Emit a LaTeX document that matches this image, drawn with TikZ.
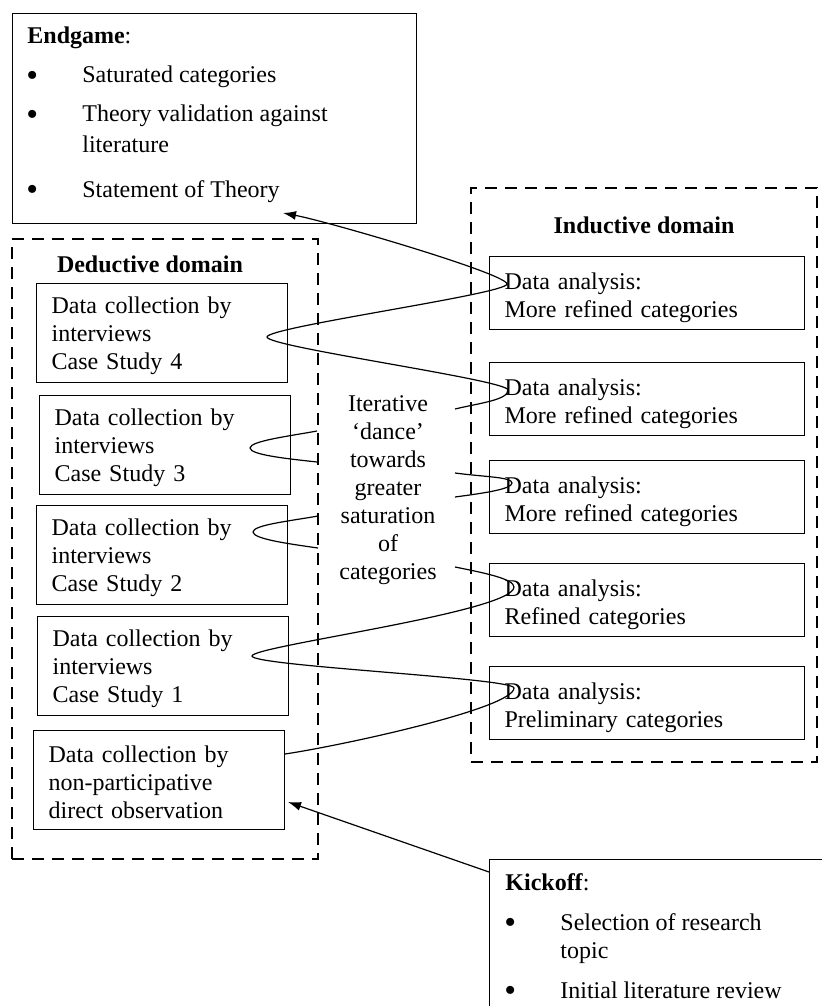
\documentclass[tikz,border=0pt]{standalone}
\usepackage{fontspec}
\usepackage{graphicx}
\setmainfont{Liberation Serif}
\usetikzlibrary{arrows.meta}
% list marker of the Endgame and Kickoff boxes
\newcommand{\listdot}{\raisebox{-1.6pt}[5pt][0pt]{\scalebox{1.4}{\textbullet}}}
\begin{document}
\begin{tikzpicture}[x=0.5pt,y=-0.5pt,
  font=\fontsize{12}{14}\selectfont,
  frame/.style={draw, line width=1pt, dash pattern=on 6pt off 4pt, anchor=north west, inner sep=0pt},
  box/.style={draw, line width=0.6pt, anchor=north west},
  databox/.style={box, inner xsep=7.5pt, text width=110.5pt, minimum height=49.5pt, align=left},
  anbox/.style={box, inner xsep=7.5pt, text width=142.5pt, minimum height=33.5pt, align=left},
  txt/.style={anchor=base west, inner sep=0pt},
  title/.style={anchor=base, inner sep=0pt, font=\fontsize{12}{14}\selectfont\bfseries},
  dance/.style={line width=0.6pt},
  tip/.style={-{Latex[length=6.5pt,width=4.5pt]}}
]
\useasboundingbox (0,0) rectangle (822,1006);
\clip (0,0) rectangle (822,1006);

% ---- Endgame box ----
\node[box, minimum width=202pt, minimum height=105pt] (endgame) at (12,13) {};
\node[txt] (eg-head) at (27,44) {\textbf{Endgame}:};
\node[txt] (eg-b1) at (26,83) {\listdot};
\node[txt] (eg-t1) at (82,83) {Saturated categories};
\node[txt] (eg-b2) at (26,122) {\listdot};
\node[txt] (eg-t2) at (82,122) {Theory validation against};
\node[txt] (eg-t2b) at (82,153) {literature};
\node[txt] (eg-b3) at (26,197) {\listdot};
\node[txt] (eg-t3) at (82,197) {Statement of Theory};

% ---- domains ----
\node[frame, minimum width=153pt, minimum height=310pt] (deductive) at (11,238) {};
\node[frame, minimum width=173pt, minimum height=287pt] (inductive) at (470,187) {};
\node[title] (ded-title) at (150,272) {Deductive domain};
\node[title] (ind-title) at (644,233) {Inductive domain};

% ---- deductive boxes ----
\node[databox] (cs4) at (36,283) {\rule{0pt}{10.8pt}Data collection by\\interviews\\Case Study 4};
\node[databox] (cs3) at (39,395) {\rule{0pt}{10.8pt}Data collection by\\interviews\\Case Study 3};
\node[databox] (cs2) at (36,505) {\rule{0pt}{10.8pt}Data collection by\\interviews\\Case Study 2};
\node[databox] (cs1) at (37,616) {\rule{0pt}{10.8pt}Data collection by\\interviews\\Case Study 1};
\node[databox] (obs) at (33,730) {\rule{0pt}{10.8pt}Data collection by\\non-participative\\direct observation};

% ---- inductive boxes ----
\node[anbox] (an5) at (489,256) {\rule{0pt}{13.3pt}Data analysis:\\More refined categories};
\node[anbox] (an4) at (489,362) {\rule{0pt}{13.3pt}Data analysis:\\More refined categories};
\node[anbox] (an3) at (489,460) {\rule{0pt}{13.3pt}Data analysis:\\More refined categories};
\node[anbox] (an2) at (489,563) {\rule{0pt}{13.3pt}Data analysis:\\Refined categories};
\node[anbox] (an1) at (489,666) {\rule{0pt}{13.3pt}Data analysis:\\Preliminary categories};

% ---- middle caption ----
\node[align=center, inner sep=0pt] (dancetext) at (388,490)
  {Iterative\\‘dance’\\towards\\greater\\saturation\\of\\categories};

% ---- Kickoff box ----
\node[box, minimum width=176pt, minimum height=81pt] (kickoff) at (489,859) {};
\node[txt] (ko-head) at (505,890) {\textbf{Kickoff}:};
\node[txt] (ko-b1) at (504,930) {\listdot};
\node[txt] (ko-t1) at (560,930) {Selection of research};
\node[txt] (ko-t1b) at (560,958) {topic};
\node[txt] (ko-b2) at (504,998) {\listdot};
\node[txt] (ko-t2) at (560,998) {Initial literature review};

% ---- the iterative dance ----
\coordinate (sa) at (455,409);
\coordinate (ra2) at (508,390);
\coordinate (la4) at (267,337);
\coordinate (ra1) at (507,284);
\coordinate (eg-target) at (283,213);
\draw[dance, tip] (sa) .. controls (480,403) and (508,400) .. (ra2)
  .. controls (508,380) and (267,347) .. (la4)
  .. controls (267,327) and (507,294) .. (ra1)
  .. controls (507,274) and (330,222) .. (eg-target);

\coordinate (b-in) at (317,431);
\coordinate (b-tip) at (250,448);
\coordinate (b-out) at (317,462);
\draw[dance] (b-in) .. controls (290,436) and (250,441) .. (b-tip)
  .. controls (250,455) and (290,459) .. (b-out);

\coordinate (c-in) at (455,473);
\coordinate (c-tip) at (512,483);
\coordinate (c-out) at (455,497);
\draw[dance] (c-in) .. controls (485,477) and (512,477) .. (c-tip)
  .. controls (512,489) and (485,493) .. (c-out);

\coordinate (d-in) at (318,516);
\coordinate (d-tip) at (253,532);
\coordinate (d-out) at (318,548);
\draw[dance] (d-in) .. controls (290,521) and (253,525) .. (d-tip)
  .. controls (253,539) and (290,544) .. (d-out);

\coordinate (e-in) at (455,567);
\coordinate (e-tip1) at (514,587);
\coordinate (e-tip2) at (252,656);
\coordinate (e-tip3) at (514,688);
\coordinate (e-out) at (285,754);
\draw[dance] (e-in) .. controls (485,573) and (514,579) .. (e-tip1)
  .. controls (514,612) and (252,646) .. (e-tip2)
  .. controls (252,666) and (514,678) .. (e-tip3)
  .. controls (514,708) and (345,745) .. (e-out);

% ---- kickoff arrow ----
\coordinate (ko-start) at ([yshift=-6.5pt]kickoff.north west);
\coordinate (obs-target) at (288,802);
\draw[dance, tip] (ko-start) -- (obs-target);
\end{tikzpicture}
\end{document}
